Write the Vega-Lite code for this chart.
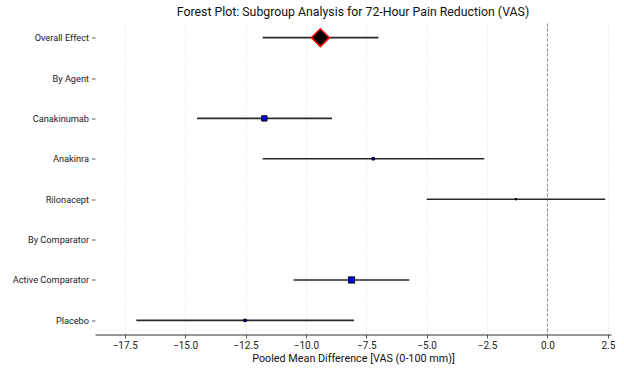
{
  "$schema": "https://vega.github.io/schema/vega-lite/v6.json",
  "autosize": {"type": "none"},
  "width": 516,
  "height": 311,
  "padding": {"left": 95, "top": 23.5, "right": 13, "bottom": 39.5},
  "background": "white",
  "config": {
    "font": "Roboto",
    "view": {"stroke": null},
    "title": {"fontSize": 12.3, "fontWeight": "normal", "color": "#111", "offset": 5, "anchor": "middle"}
  },
  "title": "Forest Plot: Subgroup Analysis for 72-Hour Pain Reduction (VAS)",
  "datasets": {
    "rows": [
      {"label": "Overall Effect", "kind": "overall", "est": -9.40, "lo": -11.79, "hi": -7.00, "weight": null},
      {"label": "Canakinumab", "kind": "subgroup", "est": -11.72, "lo": -14.51, "hi": -8.92, "weight": 28},
      {"label": "Anakinra", "kind": "subgroup", "est": -7.21, "lo": -11.79, "hi": -2.62, "weight": 6},
      {"label": "Rilonacept", "kind": "subgroup", "est": -1.31, "lo": -5.00, "hi": 2.39, "weight": 2},
      {"label": "Active Comparator", "kind": "subgroup", "est": -8.11, "lo": -10.51, "hi": -5.72, "weight": 38},
      {"label": "Placebo", "kind": "subgroup", "est": -12.52, "lo": -17.02, "hi": -8.01, "weight": 6}
    ],
    "ref": [{"ref": 0}]
  },
  "layer": [
    {
      "data": {"name": "ref"},
      "mark": {"type": "rule", "color": "#888", "strokeDash": [3, 2], "strokeWidth": 1},
      "encoding": {
        "x": {"field": "ref", "type": "quantitative", "scale": {"domain": [-18.73, 2.63], "nice": false, "zero": false}}
      }
    },
    {
      "data": {"name": "rows"},
      "mark": {"type": "rule", "color": "#2a2a2a", "strokeWidth": 1.6},
      "encoding": {
        "y": {
          "field": "label", "type": "nominal",
          "scale": {"type": "point", "padding": 0.35, "domain": ["Overall Effect", "By Agent", "Canakinumab", "Anakinra", "Rilonacept", "By Comparator", "Active Comparator", "Placebo"]},
          "axis": {"title": null, "domain": false, "grid": false, "ticks": true, "tickSize": 3.5, "tickColor": "#333", "tickWidth": 0.8, "labelPadding": 3, "labelFontSize": 9.2, "labelColor": "#222", "labelFont": "Roboto"}
        },
        "x": {
          "field": "lo", "type": "quantitative",
          "scale": {"domain": [-18.73, 2.63], "nice": false, "zero": false},
          "axis": {
            "title": "Pooled Mean Difference [VAS (0-100 mm)]",
            "values": [-17.5, -15, -12.5, -10, -7.5, -5, -2.5, 0, 2.5],
            "format": ".1f",
            "grid": true, "gridColor": "#e2e2e2", "gridDash": [1.5, 1.5], "gridWidth": 0.8,
            "domain": true, "domainColor": "#333", "domainWidth": 1,
            "ticks": true, "tickSize": 3.5, "tickColor": "#333", "tickWidth": 0.8,
            "labelFontSize": 10, "labelColor": "#222", "labelPadding": 2,
            "titleFontSize": 10.8, "titleFontWeight": "normal", "titleColor": "#111", "titlePadding": 2
          }
        },
        "x2": {"field": "hi"}
      }
    },
    {
      "data": {"name": "rows"},
      "transform": [{"filter": "datum.kind === 'subgroup'"}],
      "mark": {"type": "point", "shape": "square", "filled": true, "fill": "#0000ff", "stroke": "black", "strokeWidth": 1, "opacity": 1},
      "encoding": {
        "y": {"field": "label", "type": "nominal"},
        "x": {"field": "est", "type": "quantitative"},
        "size": {"field": "weight", "type": "quantitative", "scale": {"type": "linear", "domain": [0, 40], "range": [0, 40], "zero": true}, "legend": null}
      }
    },
    {
      "data": {"name": "rows"},
      "transform": [{"filter": "datum.kind === 'overall'"}],
      "mark": {"type": "point", "shape": "diamond", "filled": true, "fill": "black", "stroke": "red", "strokeWidth": 1.5, "size": 320, "opacity": 1},
      "encoding": {
        "y": {"field": "label", "type": "nominal"},
        "x": {"field": "est", "type": "quantitative"}
      }
    }
  ]
}
